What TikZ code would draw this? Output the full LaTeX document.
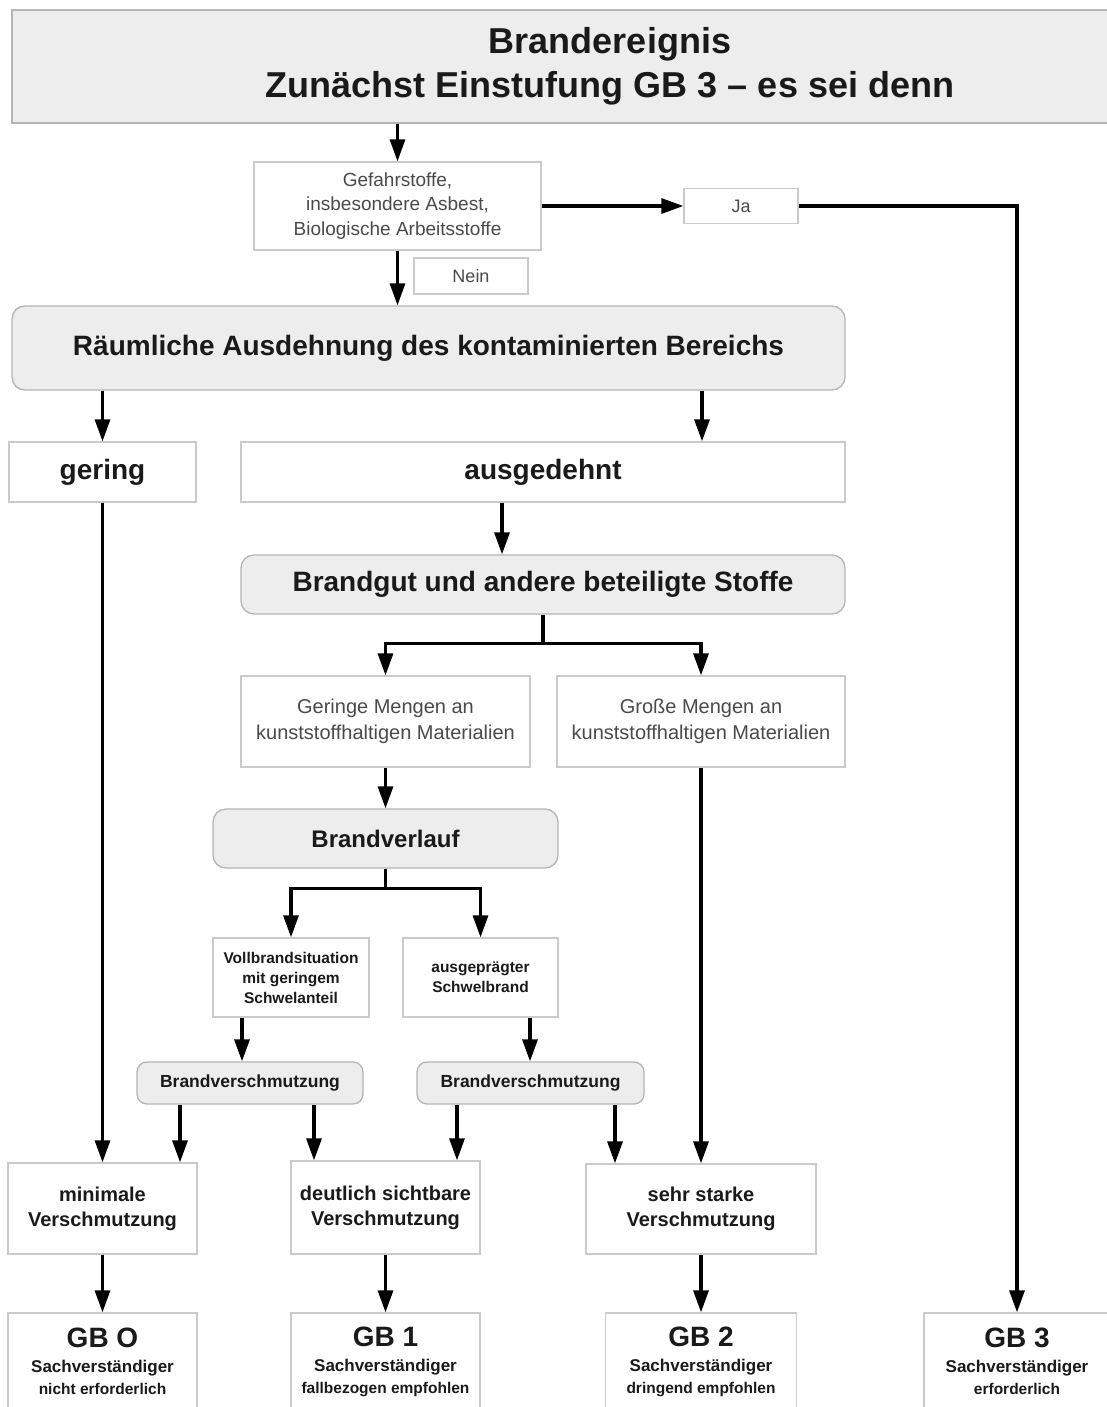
\documentclass[tikz,border=0pt]{standalone}
\usepackage{fontspec}
\setmainfont{Liberation Sans}
\usetikzlibrary{arrows.meta,calc}
\definecolor{boxline}{HTML}{CACACA}
\definecolor{gfill}{HTML}{EDEDED}
\definecolor{gline}{HTML}{B5B5B5}
\definecolor{txt}{HTML}{1A1A1A}
\definecolor{ltxt}{HTML}{4A4A4A}
\newcommand\fsz[2]{\fontsize{#1}{#2}\selectfont}
\begin{document}
\begin{tikzpicture}[x=1pt,y=-1pt,
  wbox/.style={draw=boxline, line width=1.3pt, fill=white, inner sep=0pt, align=center, text=txt},
  gbox/.style={wbox, draw=gline, fill=gfill, rounded corners=13pt},
  regtext/.style={text=ltxt, font=\fsz{19}{24.5}},
  arr/.style={line width=3.2pt, draw=black, -{Triangle[length=22pt,width=15pt]}},
]
\fill[white] (0,0) rectangle (1107,1407);
\useasboundingbox (0,0) rectangle (1107,1407);

% title
\node[gbox, rounded corners=0pt, minimum width=1196pt, minimum height=113pt,
      font=\bfseries\fsz{36}{44}] (top) at (610,66.5)
      {Brandereignis\\Zunächst Einstufung GB 3 – es sei denn};

% question
\node[wbox, regtext, minimum width=287pt, minimum height=88pt] (gef) at (397.5,206)
      {Gefahrstoffe,\\insbesondere Asbest,\\Biologische Arbeitsstoffe};
\node[wbox, regtext, font=\fsz{18}{22}, minimum width=114pt, minimum height=35pt] (ja) at (741,206) {Ja};
\node[wbox, regtext, font=\fsz{18}{22}, minimum width=114pt, minimum height=36pt] (nein) at (471,276) {Nein};

% spatial extent
\node[gbox, minimum width=833pt, minimum height=84pt, font=\bfseries\fsz{28}{32}] (raum) at (428.5,348)
      {Räumliche Ausdehnung des kontaminierten Bereichs};
\node[wbox, minimum width=187pt, minimum height=60pt, font=\bfseries\fsz{28}{32}] (gering) at (102.5,472) {gering};
\node[wbox, minimum width=604pt, minimum height=60pt, font=\bfseries\fsz{28}{32}] (ausg) at (543,472) {ausgedehnt};

% material
\node[gbox, minimum width=604pt, minimum height=59pt, font=\bfseries\fsz{28}{32}] (bg) at (543,584.5)
      {Brandgut und andere beteiligte Stoffe};
\node[wbox, regtext, font=\fsz{20}{26}, minimum width=289pt, minimum height=91pt] (ger) at (385.5,721.5)
      {Geringe Mengen an\\kunststoffhaltigen Materialien};
\node[wbox, regtext, font=\fsz{20}{26}, minimum width=288pt, minimum height=91pt] (gro) at (701,721.5)
      {Große Mengen an\\kunststoffhaltigen Materialien};

% fire course
\node[gbox, minimum width=345pt, minimum height=59pt, font=\bfseries\fsz{24}{28}] (bv) at (385.5,838.5) {Brandverlauf};
\node[wbox, minimum width=156pt, minimum height=79pt, font=\bfseries\fsz{15.5}{20}] (voll) at (291,977.5)
      {Vollbrandsituation\\mit geringem\\Schwelanteil};
\node[wbox, minimum width=155pt, minimum height=79pt, font=\bfseries\fsz{15.5}{20}] (ausp) at (480.5,977.5)
      {ausgeprägter\\Schwelbrand};
\node[gbox, rounded corners=10pt, minimum width=226pt, minimum height=42pt, font=\bfseries\fsz{17.5}{21}] (bv1) at (250,1083)
      {Brandverschmutzung};
\node[gbox, rounded corners=10pt, minimum width=227pt, minimum height=42pt, font=\bfseries\fsz{17.5}{21}] (bv2) at (530.5,1083)
      {Brandverschmutzung};

% contamination
\node[wbox, minimum width=189pt, minimum height=91pt, font=\bfseries\fsz{20}{25}] (mini) at (102.5,1208.5)
      {minimale\\Verschmutzung};
\node[wbox, minimum width=189pt, minimum height=93pt, font=\bfseries\fsz{20}{25}] (deut) at (385.5,1207.5)
      {deutlich sichtbare\\Verschmutzung};
\node[wbox, minimum width=230pt, minimum height=90pt, font=\bfseries\fsz{20}{25}] (sehr) at (701,1209)
      {sehr starke\\Verschmutzung};

% classes
\node[wbox, minimum width=189pt, minimum height=97pt, font=\bfseries\fsz{17}{22}] (gb0) at (102.5,1361.5)
      {{\fsz{28}{28}GB O}\\[3pt]Sachverständiger\\{\fsz{15.5}{20}nicht erforderlich}};
\node[wbox, minimum width=189pt, minimum height=97pt, font=\bfseries\fsz{17}{22}] (gb1) at (385.5,1361.5)
      {{\fsz{28}{28}GB 1}\\[3pt]Sachverständiger\\{\fsz{15.5}{20}fallbezogen empfohlen}};
\node[wbox, minimum width=191pt, minimum height=97pt, font=\bfseries\fsz{17}{22}] (gb2) at (701,1361.5)
      {{\fsz{28}{28}GB 2}\\[3pt]Sachverständiger\\{\fsz{15.5}{20}dringend empfohlen}};
\node[wbox, minimum width=186pt, minimum height=97pt, font=\bfseries\fsz{17}{22}] (gb3) at (1017,1361.5)
      {{\fsz{28}{28}GB 3}\\[3pt]Sachverständiger\\{\fsz{15.5}{20}erforderlich}};

% connectors
\draw[arr] (top.south -| gef.north) -- (gef.north);
\draw[arr] (gef.east) -- (ja.west);
\draw[arr] (ja.east) -| (gb3.north);
\draw[arr] (gef.south) -- (gef.south |- raum.north);
\draw[arr] (gering.north |- raum.south) -- (gering.north);
\draw[arr] ([xshift=159pt]ausg.north |- raum.south) -- ([xshift=159pt]ausg.north);
\draw[arr] ([xshift=-41pt]ausg.south) -- ([xshift=-41pt]ausg.south |- bg.north);
\draw[arr] (bg.south) -- ++(0,29) -| (ger.north);
\draw[arr] (bg.south) -- ++(0,29) -| (gro.north);
\draw[arr] (ger.south) -- (bv.north);
\draw[arr] (bv.south) -- ++(0,20) -| (voll.north);
\draw[arr] (bv.south) -- ++(0,20) -| (ausp.north);
\draw[arr] ([xshift=-49pt]voll.south) -- ([xshift=-49pt]voll.south |- bv1.north);
\draw[arr] ([xshift=49.5pt]ausp.south) -- ([xshift=49.5pt]ausp.south |- bv2.north);
\draw[arr] ([xshift=-70pt]bv1.south) -- ([xshift=-70pt]bv1.south |- mini.north);
\draw[arr] ([xshift=64pt]bv1.south) -- ([xshift=64pt]bv1.south |- deut.north);
\draw[arr] ([xshift=-73.5pt]bv2.south) -- ([xshift=-73.5pt]bv2.south |- deut.north);
\draw[arr] ([xshift=84.5pt]bv2.south) -- ([xshift=84.5pt]bv2.south |- sehr.north);
\draw[arr] (gering.south) -- (mini.north);
\draw[arr] (gro.south) -- (sehr.north);
\draw[arr] (mini.south) -- (gb0.north);
\draw[arr] (deut.south) -- (gb1.north);
\draw[arr] (sehr.south) -- (gb2.north);
\end{tikzpicture}
\end{document}
